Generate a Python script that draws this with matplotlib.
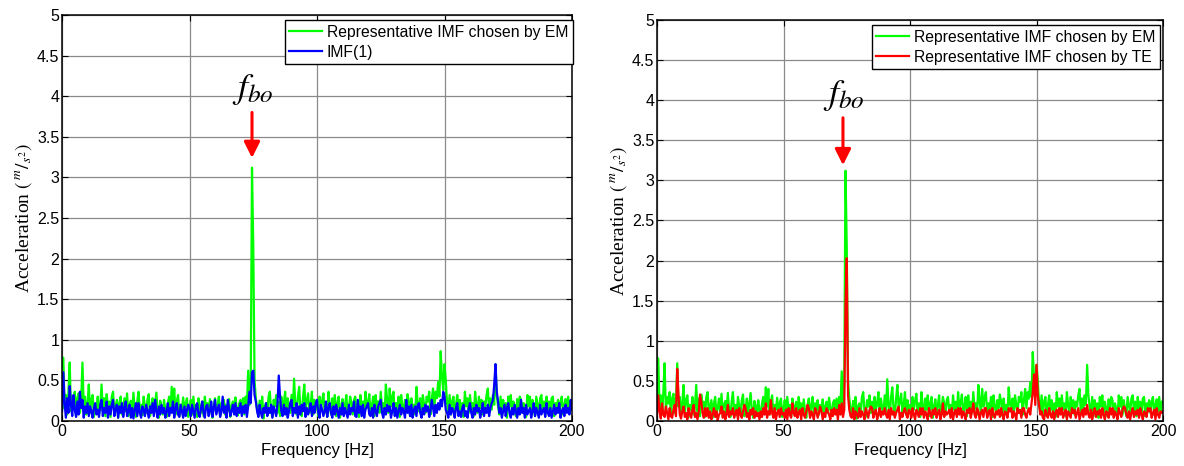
import numpy as np
import matplotlib
matplotlib.use("Agg")
import matplotlib.pyplot as plt

# ---------------- data (0.5 Hz spacing) ----------------
freq_start, freq_stop, n_points = 0, 200, 401

green_em = [
    0.25, 0.78, 0.15, 0.32, 0.08, 0.35, 0.72, 0.12, 0.30, 0.22, 0.36, 0.06, 0.28, 0.34, 0.10, 0.24, 0.72, 0.18, 0.30, 0.08,
    0.22, 0.45, 0.10, 0.26, 0.32, 0.05, 0.20, 0.14, 0.30, 0.08, 0.18, 0.45, 0.12, 0.28, 0.06, 0.33, 0.16, 0.24, 0.05, 0.30,
    0.36, 0.10, 0.18, 0.26, 0.04, 0.22, 0.30, 0.08, 0.16, 0.28, 0.12, 0.34, 0.06, 0.20, 0.25, 0.10, 0.35, 0.14, 0.05, 0.24,
    0.36, 0.12, 0.20, 0.07, 0.30, 0.18, 0.10, 0.26, 0.33, 0.06, 0.15, 0.28, 0.09, 0.22, 0.35, 0.12, 0.04, 0.25, 0.18, 0.08,
    0.26, 0.14, 0.05, 0.22, 0.30, 0.10, 0.42, 0.18, 0.40, 0.08, 0.24, 0.32, 0.06, 0.20, 0.14, 0.29, 0.10, 0.22, 0.28, 0.05,
    0.16, 0.26, 0.08, 0.30, 0.12, 0.20, 0.05, 0.28, 0.18, 0.10, 0.24, 0.06, 0.30, 0.15, 0.22, 0.08, 0.27, 0.12, 0.04, 0.20,
    0.28, 0.10, 0.18, 0.30, 0.06, 0.22, 0.14, 0.26, 0.08, 0.20, 0.12, 0.27, 0.05, 0.18, 0.24, 0.10, 0.29, 0.15, 0.07, 0.22,
    0.26, 0.12, 0.28, 0.08, 0.30, 0.18, 0.62, 0.20, 0.45, 3.12, 2.15, 0.50, 0.28, 0.15, 0.06, 0.25, 0.10, 0.30, 0.03, 0.18,
    0.22, 0.08, 0.30, 0.36, 0.12, 0.05, 0.26, 0.18, 0.32, 0.10, 0.24, 0.06, 0.30, 0.14, 0.22, 0.36, 0.08, 0.28, 0.16, 0.10,
    0.32, 0.12, 0.52, 0.20, 0.08, 0.30, 0.42, 0.14, 0.06, 0.28, 0.45, 0.16, 0.24, 0.34, 0.10, 0.20, 0.36, 0.08, 0.26, 0.14,
    0.20, 0.06, 0.30, 0.14, 0.25, 0.34, 0.10, 0.22, 0.05, 0.36, 0.18, 0.08, 0.28, 0.14, 0.32, 0.06, 0.22, 0.30, 0.04, 0.18,
    0.27, 0.10, 0.20, 0.32, 0.06, 0.16, 0.30, 0.22, 0.08, 0.26, 0.30, 0.12, 0.20, 0.05, 0.32, 0.14, 0.24, 0.08, 0.36, 0.16,
    0.22, 0.33, 0.08, 0.18, 0.30, 0.06, 0.32, 0.14, 0.24, 0.10, 0.36, 0.16, 0.22, 0.08, 0.45, 0.26, 0.10, 0.40, 0.18, 0.30,
    0.36, 0.08, 0.22, 0.14, 0.30, 0.05, 0.32, 0.18, 0.10, 0.26, 0.16, 0.33, 0.24, 0.06, 0.28, 0.14, 0.20, 0.08, 0.42, 0.22,
    0.12, 0.28, 0.06, 0.32, 0.20, 0.10, 0.30, 0.24, 0.36, 0.08, 0.26, 0.40, 0.16, 0.36, 0.28, 0.48, 0.30, 0.86, 0.55, 0.38,
    0.70, 0.50, 0.22, 0.12, 0.32, 0.08, 0.24, 0.30, 0.06, 0.20, 0.32, 0.14, 0.26, 0.08, 0.22, 0.05, 0.36, 0.18, 0.28, 0.10,
    0.32, 0.14, 0.22, 0.06, 0.36, 0.20, 0.10, 0.30, 0.16, 0.26, 0.08, 0.24, 0.18, 0.32, 0.40, 0.10, 0.28, 0.14, 0.32, 0.20,
    0.70, 0.32, 0.18, 0.08, 0.30, 0.06, 0.26, 0.14, 0.22, 0.04, 0.30, 0.18, 0.32, 0.10, 0.24, 0.16, 0.06, 0.27, 0.12, 0.30,
    0.26, 0.10, 0.22, 0.16, 0.05, 0.32, 0.18, 0.30, 0.08, 0.26, 0.14, 0.06, 0.30, 0.20, 0.10, 0.28, 0.32, 0.12, 0.24, 0.06,
    0.30, 0.14, 0.24, 0.08, 0.28, 0.30, 0.06, 0.22, 0.16, 0.26, 0.10, 0.24, 0.30, 0.08, 0.20, 0.27, 0.12, 0.30, 0.10, 0.24,
    0.25,
]

blue_imf1 = [
    0.12, 0.60, 0.22, 0.04, 0.28, 0.10, 0.43, 0.20, 0.06, 0.32, 0.14, 0.05, 0.24, 0.08, 0.36, 0.16, 0.26, 0.04, 0.18, 0.10,
    0.22, 0.06, 0.18, 0.12, 0.04, 0.16, 0.22, 0.08, 0.14, 0.05, 0.20, 0.26, 0.06, 0.16, 0.10, 0.24, 0.04, 0.18, 0.08, 0.20,
    0.26, 0.06, 0.14, 0.20, 0.04, 0.18, 0.10, 0.22, 0.05, 0.16, 0.24, 0.06, 0.12, 0.20, 0.04, 0.16, 0.03, 0.14, 0.22, 0.06,
    0.22, 0.10, 0.04, 0.18, 0.14, 0.06, 0.20, 0.12, 0.04, 0.18, 0.10, 0.22, 0.06, 0.26, 0.12, 0.04, 0.18, 0.08, 0.20, 0.10,
    0.16, 0.04, 0.12, 0.22, 0.06, 0.16, 0.10, 0.24, 0.04, 0.16, 0.22, 0.08, 0.05, 0.20, 0.12, 0.04, 0.18, 0.06, 0.14, 0.20,
    0.14, 0.06, 0.20, 0.12, 0.04, 0.18, 0.22, 0.08, 0.05, 0.16, 0.24, 0.10, 0.04, 0.18, 0.20, 0.06, 0.12, 0.24, 0.05, 0.16,
    0.26, 0.08, 0.14, 0.20, 0.05, 0.12, 0.30, 0.10, 0.18, 0.04, 0.26, 0.16, 0.06, 0.12, 0.20, 0.08, 0.22, 0.06, 0.16, 0.10,
    0.22, 0.06, 0.18, 0.10, 0.20, 0.05, 0.18, 0.36, 0.22, 0.60, 0.62, 0.32, 0.24, 0.12, 0.05, 0.20, 0.10, 0.04, 0.16, 0.10,
    0.22, 0.06, 0.16, 0.10, 0.20, 0.04, 0.18, 0.12, 0.06, 0.22, 0.56, 0.30, 0.12, 0.06, 0.20, 0.08, 0.16, 0.04, 0.12, 0.22,
    0.26, 0.06, 0.16, 0.10, 0.22, 0.04, 0.18, 0.08, 0.20, 0.12, 0.22, 0.05, 0.16, 0.08, 0.14, 0.22, 0.06, 0.18, 0.10, 0.22,
    0.26, 0.10, 0.04, 0.20, 0.14, 0.06, 0.12, 0.24, 0.05, 0.16, 0.22, 0.10, 0.04, 0.18, 0.08, 0.20, 0.12, 0.04, 0.16, 0.08,
    0.22, 0.06, 0.16, 0.10, 0.04, 0.20, 0.08, 0.16, 0.12, 0.24, 0.06, 0.05, 0.26, 0.10, 0.18, 0.06, 0.20, 0.04, 0.14, 0.18,
    0.22, 0.08, 0.06, 0.16, 0.04, 0.20, 0.12, 0.06, 0.18, 0.22, 0.26, 0.10, 0.04, 0.16, 0.08, 0.20, 0.12, 0.18, 0.04, 0.12,
    0.22, 0.06, 0.16, 0.04, 0.12, 0.20, 0.08, 0.16, 0.12, 0.04, 0.26, 0.10, 0.18, 0.06, 0.20, 0.04, 0.14, 0.18, 0.06, 0.20,
    0.22, 0.10, 0.04, 0.16, 0.08, 0.20, 0.12, 0.18, 0.05, 0.12, 0.26, 0.16, 0.06, 0.20, 0.10, 0.22, 0.14, 0.26, 0.18, 0.36,
    0.30, 0.14, 0.10, 0.04, 0.20, 0.08, 0.16, 0.12, 0.04, 0.16, 0.22, 0.06, 0.12, 0.05, 0.16, 0.20, 0.06, 0.12, 0.04, 0.16,
    0.22, 0.10, 0.04, 0.16, 0.08, 0.20, 0.12, 0.16, 0.04, 0.12, 0.22, 0.06, 0.16, 0.10, 0.20, 0.06, 0.16, 0.22, 0.26, 0.45,
    0.70, 0.36, 0.24, 0.10, 0.16, 0.04, 0.12, 0.20, 0.06, 0.16, 0.22, 0.10, 0.04, 0.16, 0.08, 0.20, 0.12, 0.04, 0.16, 0.08,
    0.26, 0.10, 0.16, 0.04, 0.20, 0.08, 0.12, 0.16, 0.04, 0.12, 0.22, 0.06, 0.16, 0.10, 0.04, 0.20, 0.08, 0.12, 0.16, 0.05,
    0.22, 0.10, 0.06, 0.16, 0.04, 0.12, 0.20, 0.08, 0.16, 0.10, 0.22, 0.04, 0.12, 0.16, 0.06, 0.20, 0.10, 0.16, 0.08, 0.26,
    0.14,
]

red_te = [
    0.08, 0.32, 0.12, 0.03, 0.22, 0.08, 0.05, 0.18, 0.10, 0.02, 0.16, 0.06, 0.04, 0.14, 0.20, 0.06, 0.65, 0.32, 0.08, 0.03,
    0.12, 0.18, 0.05, 0.10, 0.02, 0.16, 0.08, 0.04, 0.14, 0.20, 0.05, 0.10, 0.02, 0.12, 0.33, 0.24, 0.10, 0.04, 0.16, 0.06,
    0.16, 0.04, 0.12, 0.02, 0.08, 0.16, 0.05, 0.12, 0.01, 0.08, 0.10, 0.18, 0.04, 0.12, 0.02, 0.08, 0.20, 0.05, 0.12, 0.08,
    0.16, 0.04, 0.10, 0.14, 0.02, 0.16, 0.08, 0.04, 0.12, 0.20, 0.16, 0.05, 0.10, 0.02, 0.14, 0.08, 0.16, 0.04, 0.12, 0.06,
    0.10, 0.02, 0.12, 0.05, 0.16, 0.08, 0.22, 0.04, 0.12, 0.08, 0.26, 0.10, 0.04, 0.16, 0.02, 0.10, 0.14, 0.05, 0.16, 0.08,
    0.10, 0.04, 0.14, 0.02, 0.16, 0.08, 0.04, 0.22, 0.10, 0.06, 0.16, 0.04, 0.10, 0.14, 0.02, 0.16, 0.08, 0.04, 0.12, 0.20,
    0.16, 0.04, 0.12, 0.08, 0.02, 0.16, 0.12, 0.04, 0.10, 0.18, 0.12, 0.02, 0.10, 0.05, 0.16, 0.12, 0.08, 0.02, 0.14, 0.06,
    0.16, 0.08, 0.14, 0.02, 0.20, 0.08, 0.22, 0.05, 0.14, 1.45, 2.03, 0.32, 0.14, 0.06, 0.04, 0.16, 0.02, 0.12, 0.08, 0.04,
    0.16, 0.05, 0.12, 0.08, 0.02, 0.16, 0.10, 0.04, 0.14, 0.18, 0.16, 0.04, 0.10, 0.14, 0.02, 0.08, 0.16, 0.05, 0.12, 0.08,
    0.16, 0.08, 0.04, 0.14, 0.02, 0.16, 0.08, 0.12, 0.04, 0.10, 0.14, 0.18, 0.02, 0.10, 0.05, 0.12, 0.16, 0.08, 0.04, 0.14,
    0.12, 0.04, 0.16, 0.08, 0.02, 0.14, 0.10, 0.05, 0.16, 0.08, 0.16, 0.04, 0.12, 0.08, 0.02, 0.16, 0.10, 0.04, 0.14, 0.08,
    0.16, 0.04, 0.10, 0.14, 0.02, 0.08, 0.22, 0.05, 0.12, 0.08, 0.10, 0.14, 0.04, 0.16, 0.02, 0.10, 0.14, 0.05, 0.16, 0.08,
    0.16, 0.04, 0.12, 0.08, 0.02, 0.14, 0.10, 0.16, 0.04, 0.12, 0.22, 0.08, 0.04, 0.16, 0.12, 0.02, 0.10, 0.14, 0.05, 0.16,
    0.16, 0.04, 0.10, 0.14, 0.02, 0.16, 0.08, 0.04, 0.12, 0.08, 0.14, 0.05, 0.16, 0.08, 0.02, 0.12, 0.10, 0.04, 0.16, 0.12,
    0.16, 0.04, 0.12, 0.08, 0.02, 0.16, 0.10, 0.14, 0.04, 0.16, 0.16, 0.08, 0.04, 0.12, 0.16, 0.08, 0.22, 0.35, 0.58, 0.20,
    0.70, 0.32, 0.20, 0.08, 0.12, 0.04, 0.02, 0.14, 0.08, 0.04, 0.16, 0.08, 0.04, 0.12, 0.02, 0.10, 0.14, 0.05, 0.16, 0.08,
    0.16, 0.04, 0.10, 0.14, 0.02, 0.12, 0.08, 0.04, 0.16, 0.10, 0.14, 0.04, 0.10, 0.16, 0.02, 0.08, 0.14, 0.05, 0.16, 0.08,
    0.20, 0.08, 0.04, 0.14, 0.02, 0.10, 0.16, 0.05, 0.12, 0.08, 0.14, 0.04, 0.16, 0.08, 0.02, 0.12, 0.10, 0.04, 0.16, 0.08,
    0.16, 0.04, 0.12, 0.08, 0.02, 0.16, 0.10, 0.05, 0.14, 0.18, 0.16, 0.08, 0.04, 0.12, 0.02, 0.10, 0.16, 0.05, 0.12, 0.08,
    0.14, 0.04, 0.16, 0.08, 0.02, 0.12, 0.10, 0.05, 0.16, 0.12, 0.16, 0.04, 0.10, 0.14, 0.02, 0.16, 0.08, 0.04, 0.12, 0.10,
    0.12,
]

x_ticks = [0, 50, 100, 150, 200]
x_tick_labels = ["0", "50", "100", "150", "200"]
y_ticks = [0, 0.5, 1, 1.5, 2, 2.5, 3, 3.5, 4, 4.5, 5]
y_tick_labels = ["0", "0.5", "1", "1.5", "2", "2.5", "3", "3.5", "4", "4.5", "5"]

label_em = "Representative IMF chosen by EM"
label_imf1 = "IMF(1)"
label_te = "Representative IMF chosen by TE"

# ---------------- figure ----------------
plt.rcParams["mathtext.fontset"] = "stix"
sans = "Liberation Sans"
serif = "Liberation Serif"

freq = np.linspace(freq_start, freq_stop, n_points)

fig = plt.figure(figsize=(11.84, 4.66), dpi=100)
ax1 = fig.add_axes([0.0524, 0.0966, 0.4307, 0.8712])
ax2 = fig.add_axes([0.5549, 0.0966, 0.4274, 0.8605])


def style(ax):
    ax.set_xlim(0, 200)
    ax.set_ylim(0, 5)
    ax.set_xticks(x_ticks)
    ax.set_xticklabels(x_tick_labels, fontfamily=sans, fontsize=11.5)
    ax.set_yticks(y_ticks)
    ax.set_yticklabels(y_tick_labels, fontfamily=sans, fontsize=11.5)
    ax.grid(True, color="#8a8a8a", linewidth=0.9)
    ax.set_axisbelow(True)
    ax.tick_params(direction="in", top=True, right=True, length=4, width=0.8, pad=2)
    for s in ax.spines.values():
        s.set_linewidth(1.1)
        s.set_color("black")
    ax.set_xlabel("Frequency [Hz]", fontfamily=sans, fontsize=12, labelpad=3)
    ax.set_ylabel(r"Acceleration $\left(\,^{m}/_{s^{2}}\right)$", fontfamily=serif, fontsize=14, labelpad=2)


def arrow(ax, xf, y_text, y_top, y_tip):
    ax.text(xf + 0.3, y_text, r"$f_{bo}$", fontsize=26, ha="center", va="baseline")
    ax.annotate("", xy=(xf, y_tip), xytext=(xf, y_top),
                arrowprops=dict(arrowstyle="-|>", color="#ff0000", lw=2.2, mutation_scale=24,
                                shrinkA=0, shrinkB=0))


# left panel
ax1.plot(freq, green_em, color="#00ff00", lw=1.6, label=label_em)
ax1.plot(freq, blue_imf1, color="#0000ff", lw=1.6, label=label_imf1)
style(ax1)
arrow(ax1, 74.5, 3.98, 3.8, 3.24)
leg1 = ax1.legend(loc="upper right", bbox_to_anchor=(1.002, 0.988), fancybox=False, framealpha=1,
                  edgecolor="black", prop={"family": sans, "size": 11.3}, handlelength=2.1,
                  handletextpad=0.3, borderpad=0.3, labelspacing=0.32, borderaxespad=0.0)
leg1.get_frame().set_linewidth(1.0)

# right panel
ax2.plot(freq, green_em, color="#00ff00", lw=1.6, label=label_em)
ax2.plot(freq, red_te, color="#ff0000", lw=1.6, label=label_te)
style(ax2)
arrow(ax2, 73.5, 3.95, 3.78, 3.19)
leg2 = ax2.legend(loc="upper right", bbox_to_anchor=(0.994, 0.9875), fancybox=False, framealpha=1,
                  edgecolor="black", prop={"family": sans, "size": 11.3}, handlelength=2.1,
                  handletextpad=0.3, borderpad=0.3, labelspacing=0.32, borderaxespad=0.0)
leg2.get_frame().set_linewidth(1.0)

fig.savefig("out.png", dpi=100)
